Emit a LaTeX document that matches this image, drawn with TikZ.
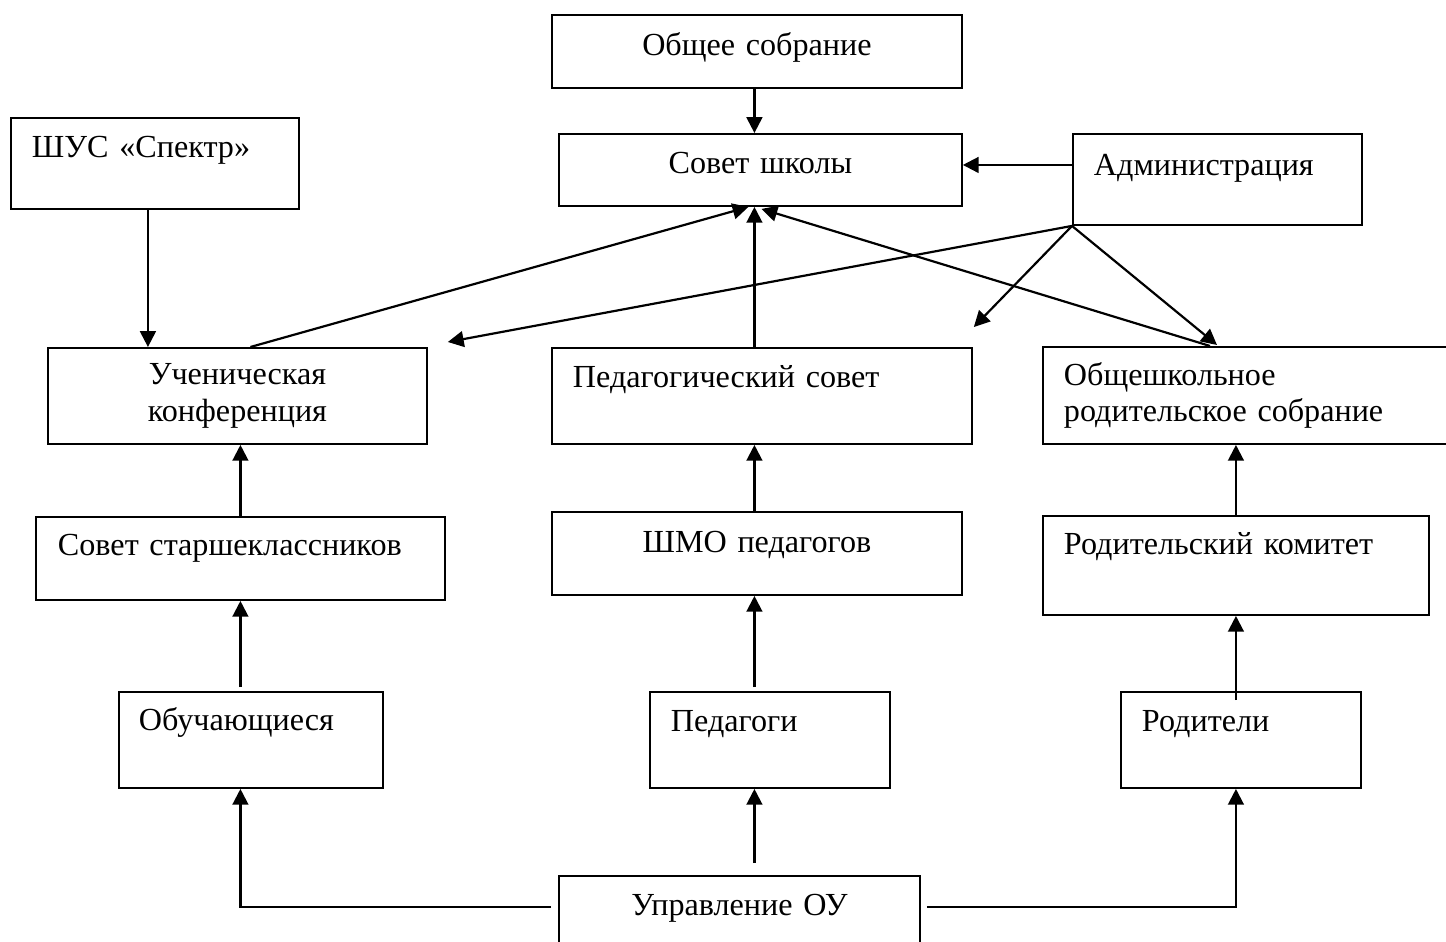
\documentclass[tikz,border=0pt]{standalone}
\usepackage{fontspec}
\setmainfont{Liberation Serif}
\usetikzlibrary{positioning,arrows.meta,calc}
\tikzstyle{unit} = [
rectangle,
draw,
line width=1.1pt,
inner ysep=0pt,
anchor=north west
]
\tikzstyle{leftbox} = [
unit,
align=left,
inner xsep=0.42cm
]
\tikzstyle{midbox} = [
unit,
align=center,
inner xsep=0pt
]
\tikzstyle{link} = [
line width=1.25pt,
-{Triangle[length=9pt,width=9pt]}
]

\begin{document}
\begin{tikzpicture}[
	x=0.02cm,
	y=0.02cm,
	font=\fontsize{18.3}{21}\selectfont
	]
	\useasboundingbox (0,0) rectangle (1446,-942);
	
	\node[midbox,text width=8.2cm,text height=0.82cm,text depth=0.64cm] (obshee) at (551,-14) {Общее собрание};
	\node[midbox,text width=8.06cm,text height=0.8cm,text depth=0.64cm] (sovet) at (558,-133) {Совет школы};
	\node[leftbox,text width=4.92cm,text height=0.8cm,text depth=1.02cm] (shus) at (10,-117) {ШУС «Спектр»};
	\node[leftbox,text width=4.94cm,text height=0.84cm,text depth=0.98cm] (admin) at (1072,-133) {Администрация};
	
	\node[midbox,text width=7.58cm,minimum height=1.92cm] (uchkonf) at (47,-347) {Ученическая\\конференция};
	\node[leftbox,text width=7.56cm,text height=0.8cm,text depth=1.12cm] (pedsovet) at (551,-347) {Педагогический совет};
	\node[leftbox,text width=7.56cm,minimum height=1.94cm] (obshrod) at (1042,-346) {Общешкольное\\родительское собрание};
	
	\node[leftbox,inner xsep=0.44cm,text width=7.3cm,text height=0.78cm,text depth=0.88cm] (starsh) at (35,-516) {Совет старшеклассников};
	\node[midbox,text width=8.2cm,text height=0.82cm,text depth=0.84cm] (shmo) at (551,-511) {ШМО педагогов};
	\node[leftbox,text width=6.88cm,text height=0.78cm,text depth=1.2cm] (rodkom) at (1042,-515) {Родительский комитет};
	
	\node[leftbox,inner xsep=0.4cm,text width=4.48cm,text height=0.78cm,text depth=1.14cm] (obuch) at (118,-691) {Обучающиеся};
	\node[leftbox,text width=3.96cm,text height=0.8cm,text depth=1.12cm] (pedagogi) at (649,-691) {Педагоги};
	\node[leftbox,text width=3.96cm,text height=0.8cm,text depth=1.12cm] (roditeli) at (1120,-691) {Родители};
	
	\node[midbox,text width=7.22cm,text height=0.8cm,text depth=0.9cm] (upravl) at (558,-875) {Управление ОУ};
	
	\coordinate (tipL) at ($(sovet.south)+(-12,0)$);
	\coordinate (tipM) at ($(sovet.south)+(-6,0)$);
	\coordinate (tipR) at ($(sovet.south)+(1,-2)$);
	
	\draw[link] (obshee.south -| tipM) -- (sovet.north -| tipM);
	\draw[link] ($(admin.west |- sovet.east)+(0,5)$) -- ($(sovet.east)+(0,5)$);
	\draw[link] ($(shus.south)+(-7,0)$) -- ($(shus.south |- uchkonf.north)+(-7,0)$);
	
	\draw[link] ($(uchkonf.north)+(13,0)$) -- (tipL);
	\draw[link] (pedsovet.north -| tipM) -- (tipM);
	\draw[link] ($(obshrod.north west)+(168,0)$) -- (tipR);
	\draw[link] (admin.south west) -- ($(uchkonf.north east)+(20,5)$);
	\draw[link] (admin.south west) -- ($(pedsovet.north east)+(1,20)$);
	\draw[link] (admin.south west) -- ($(obshrod.north west)+(175,1)$);
	
	\draw[link] (starsh.north) -- (starsh.north |- uchkonf.south);
	\draw[link] ($(starsh.south |- obuch.north)+(0,4)$) -- (starsh.south);
	\draw[link] (shmo.north -| tipM) -- (pedsovet.south -| tipM);
	\draw[link] ($(pedagogi.north -| tipM)+(0,4)$) -- (shmo.south -| tipM);
	\draw[link] (rodkom.north) -- (rodkom.north |- obshrod.south);
	\draw[link] ($(rodkom.south |- roditeli.north)+(0,-9)$) -- (rodkom.south);
	
	\draw[link] ($(upravl.north west)+(-7,-32)$) -| (starsh.south |- obuch.south);
	\draw[link] ($(upravl.north -| tipM)+(0,12)$) -- (pedagogi.south -| tipM);
	\draw[link] ($(upravl.north east)+(6,-32)$) -| (rodkom.south |- roditeli.south);
\end{tikzpicture}
\end{document}
